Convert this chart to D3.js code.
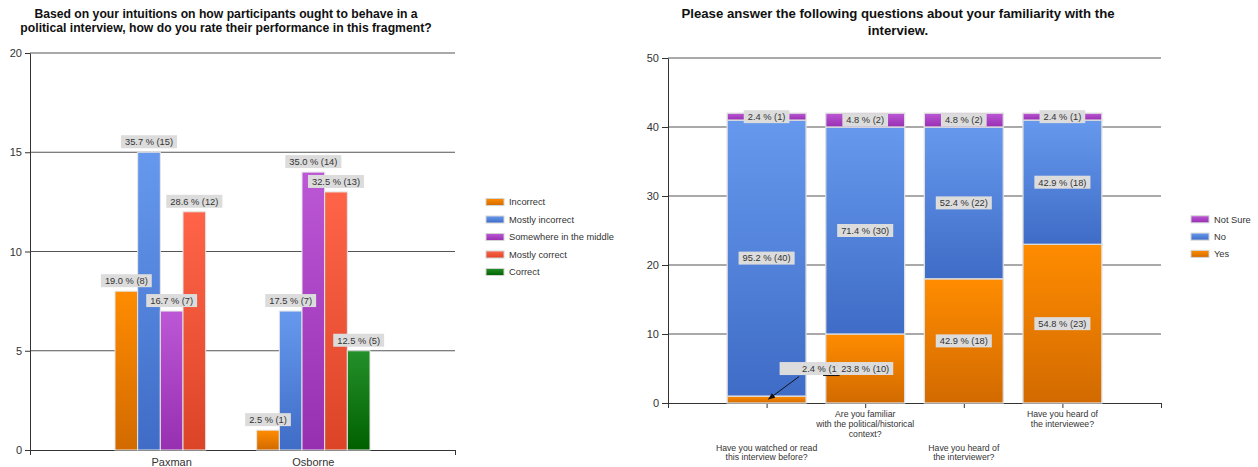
<!DOCTYPE html>
<html>
<head>
<meta charset="utf-8">
<script src="https://cdn.jsdelivr.net/npm/d3@7"></script>
<style>
  body { margin: 0; background: #fff; }
  svg { display: block; font-family: "Liberation Sans", Arial, sans-serif; }
</style>
</head>
<body>
<svg id="chart" width="1258" height="467"></svg>
<script>
// ---- Performance rating survey ----
const ratingTitle = [
  "Based on your intuitions on how participants ought to behave in a",
  "political interview, how do you rate their performance in this fragment?"
];
const ratingCategories = ["Paxman", "Osborne"];
const ratingSeries = ["Incorrect", "Mostly incorrect", "Somewhere in the middle", "Mostly correct", "Correct"];
const ratingIncorrect = [8, 1];
const ratingMostlyIncorrect = [15, 7];
const ratingMiddle = [7, 14];
const ratingMostlyCorrect = [12, 13];
const ratingCorrect = [0, 5];
const ratingTicks = [0, 5, 10, 15, 20];

// ---- Familiarity survey ----
const familiarityTitle = [
  "Please answer the following questions about your familiarity with the",
  "interview."
];
const familiarityQuestions = [
  ["Have you watched or read", "this interview before?"],
  ["Are you familiar", "with the political/historical", "context?"],
  ["Have you heard of", "the interviewer?"],
  ["Have you heard of", "the interviewee?"]
];
const familiaritySeries = ["Yes", "No", "Not Sure"];
const familiarityYes = [1, 10, 18, 23];
const familiarityNo = [40, 30, 22, 18];
const familiarityNotSure = [1, 2, 2, 1];
const familiarityTicks = [0, 10, 20, 30, 40, 50];

// ---- Styling ----
const gradients = {
  orange: ["#ff8c00", "#d26a00"],
  blue:   ["#6699ee", "#3f6cc6"],
  purple: ["#bc57d6", "#962fb0"],
  red:    ["#ff6448", "#dc4428"],
  green:  ["#24902a", "#006000"]
};
const ratingColors = ["orange", "blue", "purple", "red", "green"];
const familiarityColors = ["orange", "blue", "purple"];

const svg = d3.select("#chart");
const defs = svg.append("defs");
Object.entries(gradients).forEach(([name, [top, bottom]]) => {
  const g = defs.append("linearGradient").attr("id", "grad-" + name)
    .attr("x1", 0).attr("y1", 0).attr("x2", 0).attr("y2", 1);
  g.append("stop").attr("offset", "0%").attr("stop-color", top);
  g.append("stop").attr("offset", "100%").attr("stop-color", bottom);
});
defs.append("marker").attr("id", "arrow")
  .attr("viewBox", "0 0 10 10").attr("refX", 9).attr("refY", 5)
  .attr("markerWidth", 7).attr("markerHeight", 7).attr("orient", "auto-start-reverse")
  .append("path").attr("d", "M0,1 L10,5 L0,9 z").attr("fill", "#111");

const pctLabel = (v, total) => (v / total * 100).toFixed(1) + " % (" + v + ")";

function valueLabel(g, cx, cy, text) {
  const grp = g.append("g");
  const t = grp.append("text").attr("x", cx).attr("y", cy + 3.3)
    .attr("text-anchor", "middle").attr("font-size", 9.3).attr("fill", "#333").text(text);
  const w = t.node().getComputedTextLength() + 8;
  grp.insert("rect", "text").attr("x", cx - w / 2).attr("y", cy - 6.5)
    .attr("width", w).attr("height", 13).attr("fill", "#dcdcdc");
  return grp;
}

function title(lines, cx, baselines, size) {
  lines.forEach((line, i) => {
    svg.append("text").attr("x", cx).attr("y", baselines[i])
      .attr("text-anchor", "middle").attr("font-weight", "bold")
      .attr("font-size", size).attr("fill", "#111").text(line);
  });
}

function legend(items, colors, x, y0, step) {
  const lg = svg.append("g");
  items.forEach((name, i) => {
    const cy = y0 + i * step;
    lg.append("rect").attr("x", x).attr("y", cy - 3.5).attr("width", 18).attr("height", 7)
      .attr("fill", "url(#grad-" + colors[i] + ")").attr("stroke", "#d4d4d4").attr("stroke-width", 1);
    lg.append("text").attr("x", x + 23).attr("y", cy + 3.3)
      .attr("font-size", 9.3).attr("fill", "#333").text(name);
  });
}

// ================= Left chart: grouped bars =================
{
  const x = d3.scaleLinear().domain([0, ratingCategories.length + 1]).range([30, 455]);
  const y = d3.scaleLinear().domain([0, 20]).range([450, 53]);
  const g = svg.append("g");
  const values = [ratingIncorrect, ratingMostlyIncorrect, ratingMiddle, ratingMostlyCorrect, ratingCorrect];

  title(ratingTitle, 226, [17.5, 31.5], 12.2);

  // gridlines
  g.selectAll(".grid").data(ratingTicks.slice(1)).join("line")
    .attr("x1", x(0)).attr("x2", x(ratingCategories.length + 1))
    .attr("y1", d => y(d)).attr("y2", d => y(d))
    .attr("stroke", "#555").attr("stroke-width", 1.2);

  // axes
  const ya = g.append("g").attr("transform", `translate(${x(0)},0)`)
    .call(d3.axisLeft(y).tickValues(ratingTicks).tickSize(5).tickSizeOuter(0).tickPadding(3));
  ya.selectAll("text").attr("font-size", 11).attr("fill", "#333").attr("font-family", null);
  ya.selectAll("line, path").attr("stroke", "#333");

  const xa = g.append("g").attr("transform", `translate(0,${y(0)})`)
    .call(d3.axisBottom(x).tickValues([0, ratingCategories.length + 1]).tickFormat("").tickSize(5).tickSizeOuter(0));
  xa.selectAll("line, path").attr("stroke", "#333");
  ratingCategories.forEach((c, i) => {
    g.append("text").attr("x", x(i + 1)).attr("y", 466).attr("text-anchor", "middle")
      .attr("font-size", 11).attr("fill", "#333").text(c);
  });

  // bars
  const slot = (x(1) - x(0)) * 0.8 / ratingSeries.length;
  const totals = ratingCategories.map((_, i) => d3.sum(values, v => v[i]));
  const labels = svg.append("g");
  ratingCategories.forEach((_, i) => {
    values.forEach((series, s) => {
      const v = series[i];
      if (!v) return;
      const left = x(i + 1) - slot * ratingSeries.length / 2 + s * slot;
      g.append("rect").attr("x", left).attr("y", y(v))
        .attr("width", slot).attr("height", y(0) - y(v))
        .attr("fill", "url(#grad-" + ratingColors[s] + ")")
        .attr("stroke", "#e6e6e6").attr("stroke-width", 1);
    });
  });
  ratingCategories.forEach((_, i) => {
    values.forEach((series, s) => {
      const v = series[i];
      if (!v) return;
      const cx = x(i + 1) - slot * ratingSeries.length / 2 + (s + 0.5) * slot;
      valueLabel(labels, cx, y(v) - 10.5, pctLabel(v, totals[i]));
    });
  });

  g.select(".domain");
  legend(ratingSeries, ratingColors, 486, 202, 17.5);
}

// ================= Right chart: stacked bars =================
{
  const n = familiarityQuestions.length;
  const x = d3.scaleLinear().domain([0, n + 1]).range([668, 1161]);
  const y = d3.scaleLinear().domain([0, 50]).range([403, 58]);
  const g = svg.append("g");

  title(familiarityTitle, 898, [17.5, 34.5], 13.2);

  g.selectAll(".grid").data(familiarityTicks.slice(1)).join("line")
    .attr("x1", x(0)).attr("x2", x(n + 1))
    .attr("y1", d => y(d)).attr("y2", d => y(d))
    .attr("stroke", "#555").attr("stroke-width", 1.2);

  const ya = g.append("g").attr("transform", `translate(${x(0)},0)`)
    .call(d3.axisLeft(y).tickValues(familiarityTicks).tickSize(6).tickSizeOuter(0).tickPadding(3));
  ya.selectAll("text").attr("font-size", 11).attr("fill", "#333").attr("font-family", null);
  ya.selectAll("line, path").attr("stroke", "#333");

  const xa = g.append("g").attr("transform", `translate(0,${y(0)})`)
    .call(d3.axisBottom(x).tickValues(d3.range(0, n + 2)).tickFormat("").tickSize(5).tickSizeOuter(0));
  xa.selectAll("line, path").attr("stroke", "#333");

  // staggered category labels
  familiarityQuestions.forEach((lines, i) => {
    const top = i % 2 === 1 ? 417.3 : 450.7;
    lines.forEach((line, k) => {
      g.append("text").attr("x", x(i + 1)).attr("y", top + k * 9.7)
        .attr("text-anchor", "middle").attr("font-size", 8.7).attr("fill", "#333").text(line);
    });
  });

  const table = familiarityQuestions.map((_, i) => ({
    "Yes": familiarityYes[i], "No": familiarityNo[i], "Not Sure": familiarityNotSure[i]
  }));
  const stacked = d3.stack().keys(familiaritySeries)(table);
  const bw = (x(1) - x(0)) * 0.8;

  stacked.forEach((layer, s) => {
    layer.forEach((d, i) => {
      g.append("rect").attr("x", x(i + 1) - bw / 2).attr("y", y(d[1]))
        .attr("width", bw).attr("height", y(d[0]) - y(d[1]))
        .attr("fill", "url(#grad-" + familiarityColors[s] + ")")
        .attr("stroke", "#dedede").attr("stroke-width", 1.3);
    });
  });

  const labels = svg.append("g");
  const totals = table.map(r => d3.sum(familiaritySeries, k => r[k]));
  // small bottom segments get a callout with an arrow
  stacked.forEach((layer, s) => {
    layer.forEach((d, i) => {
      const v = d[1] - d[0];
      if (s !== 0 || v >= 2) return;
      const ax = x(i + 1), ay = y((d[0] + d[1]) / 2);
      const grp = labels.append("g");
      grp.append("rect").attr("x", ax + 13).attr("y", ay - 37.5).attr("width", 61).attr("height", 13)
        .attr("fill", "#dcdcdc");
      grp.append("text").attr("x", ax + 35.5).attr("y", ay - 27.7)
        .attr("font-size", 9.3).attr("fill", "#333").text(pctLabel(v, totals[i]));
      grp.append("line").attr("x1", ax + 56.5).attr("x2", ax + 73).attr("y1", ay - 24).attr("y2", ay - 24)
        .attr("stroke", "#111").attr("stroke-width", 1);
      grp.append("line").attr("x1", ax + 32.5).attr("y1", ay - 23).attr("x2", ax + 2).attr("y2", ay - 0.5)
        .attr("stroke", "#111").attr("stroke-width", 1).attr("marker-end", "url(#arrow)");
    });
  });
  stacked.forEach((layer, s) => {
    layer.forEach((d, i) => {
      const v = d[1] - d[0];
      if (s === 0 && v < 2) return;
      valueLabel(labels, x(i + 1), y((d[0] + d[1]) / 2), pctLabel(v, totals[i]));
    });
  });

  legend(familiaritySeries.slice().reverse(), familiarityColors.slice().reverse(), 1191, 219.3, 17.3);
}
</script>
</body>
</html>
